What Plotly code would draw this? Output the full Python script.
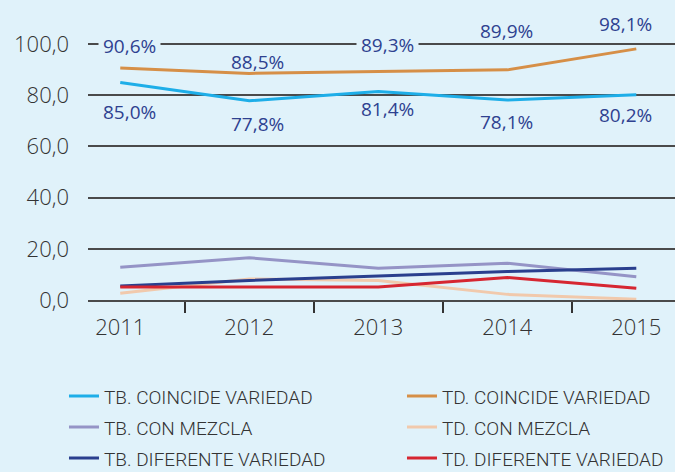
import plotly.graph_objects as go

years = ["2011", "2012", "2013", "2014", "2015"]

tb_coincide = [85.0, 77.8, 81.4, 78.1, 80.2]
td_coincide = [90.6, 88.5, 89.3, 89.9, 98.1]
tb_mezcla = [12.8, 16.5, 12.4, 14.4, 9.1]
td_mezcla = [2.6, 8.2, 7.6, 2.2, 0.3]
tb_diferente = [5.5, 7.6, 9.4, 11.1, 12.4]
td_diferente = [5.1, 5.1, 5.1, 8.8, 4.6]

names = [
    "TB. COINCIDE VARIEDAD", "TD. COINCIDE VARIEDAD",
    "TB. CON MEZCLA", "TD. CON MEZCLA",
    "TB. DIFERENTE VARIEDAD", "TD. DIFERENTE VARIEDAD",
]
series = [tb_coincide, td_coincide, tb_mezcla, td_mezcla, tb_diferente, td_diferente]
colors = ["#1EAEE8", "#D68F47", "#9594C6", "#F1C9AC", "#2A3F8E", "#D62631"]

# label styling offsets (px) and which labels mask the gridline behind them
td_label_dy = [22, 11, 26, 39, 25]
tb_label_dy = [-30, -23, -17, -22, -20]
label_dx = [9, 8, 9, -1, -11]
td_label_mask = [True, False, True, False, False]

bg = "#E0F2FA"
grid = "#4A4A4A"
label_color = "#2E4190"
label_font = dict(family="Open Sans", size=19, color=label_color, weight=500)

fig = go.Figure()
for name, vals, col in zip(names, series, colors):
    fig.add_trace(go.Scatter(
        x=years, y=vals, name=f'<span style="font-size:19px">{name}</span>',
        mode="lines", line=dict(color=col, width=3), cliponaxis=False,
    ))

def fmt(v):
    return f"{v:.1f}".replace(".", ",") + "%"

for i, yr in enumerate(years):
    fig.add_annotation(x=i, y=td_coincide[i], xref="x", yref="y", text=fmt(td_coincide[i]),
                       yshift=td_label_dy[i], xshift=label_dx[i], showarrow=False,
                       bgcolor=bg if td_label_mask[i] else "rgba(0,0,0,0)", borderpad=4,
                       font=label_font)
    fig.add_annotation(x=i, y=tb_coincide[i], xref="x", yref="y", text=fmt(tb_coincide[i]),
                       yshift=tb_label_dy[i], xshift=label_dx[i], showarrow=False,
                       font=label_font)

fig.update_layout(
    width=675, height=472,
    margin=dict(l=88, r=0, t=18, b=172, autoexpand=False),
    paper_bgcolor=bg, plot_bgcolor=bg,
    separators=",.",
    showlegend=True,
    legend=dict(
        orientation="h", x=-0.0409, xanchor="left", y=-0.268, yanchor="top",
        entrywidth=293, itemwidth=30,
        font=dict(family="Roboto", size=21.5, color="#333333", weight=300),
        bgcolor="rgba(0,0,0,0)",
    ),
)
fig.update_xaxes(
    type="category", range=[-0.25, 4.30],
    showgrid=False, showline=True, linecolor=grid, linewidth=2,
    ticks="outside", tickson="boundaries", ticklen=11, tickwidth=2, tickcolor="#333333",
    ticklabelstandoff=7,
    tickfont=dict(family="Open Sans", size=22, color="#333333", weight=300),
)
fig.update_yaxes(
    range=[0, 110.16], tickvals=[0, 20, 40, 60, 80, 100], tickformat=".1f",
    showgrid=True, gridcolor=grid, gridwidth=1.5, zeroline=False,
    showline=False, ticks="", ticklabelstandoff=18,
    tickfont=dict(family="Open Sans", size=22, color="#333333", weight=300),
)

fig.write_html("out.html", config={"displayModeBar": False},
               post_script="document.body.style.margin='0';document.body.style.padding='0';document.body.style.overflow='hidden';")
